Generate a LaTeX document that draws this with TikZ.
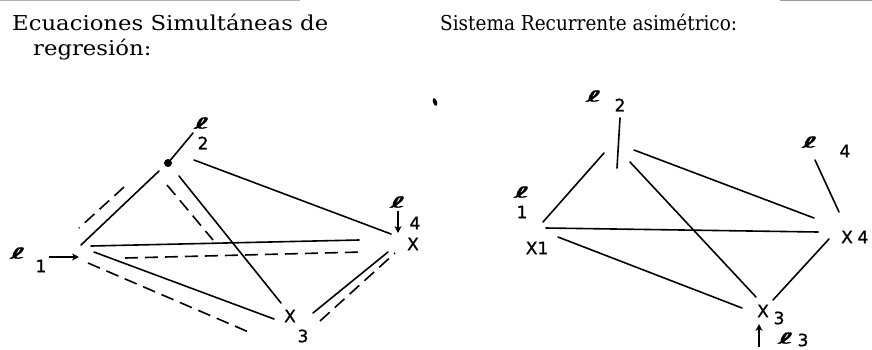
\documentclass[tikz,border=0pt]{standalone}
\usepackage{graphicx}
\usepackage{fontspec}
\newfontfamily\hand[FakeBold=1]{DejaVu Sans}
\newfontfamily\titlef{DejaVu Serif}
\usetikzlibrary{arrows.meta}
\newcommand{\eg}{\scalebox{2.4}[0.95]{ℓ}}
\tikzset{
  ln/.style={line width=1.6pt, line cap=round},
  dl/.style={line width=1.6pt, dash pattern=on 13pt off 7pt},
  arr/.style={line width=1.6pt, -{Stealth[length=7pt,width=7pt]}},
  lab/.style={inner sep=0pt, font=\hand\fontsize{17}{17}\selectfont},
  ee/.style={inner sep=0pt, font=\hand\fontsize{16}{16}\selectfont},
  ttl/.style={inner sep=0pt, anchor=base west, font=\titlef\fontsize{20.5}{20.5}\selectfont}
}
\begin{document}
\begin{tikzpicture}[x=1pt,y=-1pt]
\useasboundingbox (0,0) rectangle (872,349);
\fill[white] (0,0) rectangle (872,349);
% scan remnant at top
\draw[gray!60, line width=1pt] (0,0.5) -- (300,0.5);
\draw[gray!80, line width=1pt] (780,0.5) -- (872,0.5);
% titles
\node[ttl] (t1) at (12,30.5) {\scalebox{1.11}[1]{Ecuaciones Simultáneas de}};
\node[ttl] (t2) at (33,55) {\scalebox{1.11}[1]{regresión:}};
\node[ttl] (t3) at (440,30.5) {\scalebox{0.9}[1]{Sistema Recurrente asimétrico:}};
% stray mark
\fill (435,102) ellipse [x radius=2pt, y radius=4pt, rotate=20];
% ===== left diagram =====
\coordinate (d) at (168,163);
\fill (d) circle (4pt);
\coordinate (e2a) at (193,133);
\draw[ln] (d) -- (e2a);
\node[ee] (le2) at (202,123) {\eg};
\node[lab] (l2) at (203,143) {2};
% dot -- X1
\coordinate (a1) at (159,171); \coordinate (a2) at (81,245);
\draw[ln] (a1) -- (a2);
\coordinate (a3) at (124,187); \coordinate (a4) at (79,228);
\draw[dl] (a3) -- (a4);
% dot -- X4
\coordinate (b1) at (194,160); \coordinate (b2) at (391,234);
\draw[ln] (b1) -- (b2);
% dot -- X3
\coordinate (c1) at (179,176); \coordinate (c2) at (281,303);
\draw[ln] (c1) -- (c2);
\coordinate (c3) at (167,185); \coordinate (c4) at (213,240);
\draw[dl] (c3) -- (c4);
% X1 -- X4
\coordinate (h1) at (91,246); \coordinate (h2) at (359,240);
\draw[ln] (h1) -- (h2);
\coordinate (h3) at (125,258); \coordinate (h4) at (363,252);
\draw[dl] (h3) -- (h4);
% X1 -- X3
\coordinate (g1) at (94,252); \coordinate (g2) at (274,319);
\draw[ln] (g1) -- (g2);
\coordinate (g3) at (88,263); \coordinate (g4) at (251,333);
\draw[dl] (g3) -- (g4);
% X3 -- X4
\coordinate (k1) at (313,313); \coordinate (k2) at (388,252);
\draw[ln] (k1) -- (k2);
\coordinate (k3) at (320,321); \coordinate (k4) at (395,253);
\draw[dl] (k3) -- (k4);
% labels
\node[lab] (lx3) at (290,316) {X};
\node[lab] (l3) at (303,336) {3};
\node[lab] (lx4) at (413,244) {X};
\node[lab] (l4) at (415,223) {4};
\node[ee] (le4) at (398,202) {\eg};
\coordinate (ar4s) at (398,211); \coordinate (ar4) at (398,233);
\draw[arr] (ar4s) -- (ar4);
\node[ee] (le1) at (18,253) {\eg};
\node[lab] (l1) at (41,266) {1};
\coordinate (ar1s) at (49,257); \coordinate (ar1e) at (79,257);
\draw[arr] (ar1s) -- (ar1e);
% ===== right diagram =====
\node[ee] (re2) at (594,96) {\eg};
\node[lab] (r2) at (620,105) {2};
\coordinate (p1) at (620,118); \coordinate (p2) at (617,168);
\draw[ln] (p1) -- (p2);
\coordinate (q1) at (604,153); \coordinate (q2) at (543,222);
\draw[ln] (q1) -- (q2);
\coordinate (q3) at (634,150); \coordinate (q4) at (814,218);
\draw[ln] (q3) -- (q4);
\coordinate (q5) at (630,162); \coordinate (q6) at (756,297);
\draw[ln] (q5) -- (q6);
\coordinate (q7) at (546,228); \coordinate (q8) at (818,232);
\draw[ln] (q7) -- (q8);
\coordinate (q9) at (558,237); \coordinate (q10) at (742,308);
\draw[ln] (q9) -- (q10);
\coordinate (q11) at (773,300); \coordinate (q12) at (829,239);
\draw[ln] (q11) -- (q12);
\node[ee] (re4) at (810,142) {\eg};
\node[lab] (r4) at (845,151) {4};
\coordinate (q13) at (815,160); \coordinate (q14) at (839,212);
\draw[ln] (q13) -- (q14);
\node[lab] (rx4) at (847,237) {X};
\node[lab] (rx4n) at (863,237) {4};
\node[lab] (rx1) at (537,248) {X1};
\node[ee] (re1) at (522,192) {\eg};
\node[lab] (r1) at (522,212) {1};
\node[lab] (rx3) at (763,311) {X};
\node[lab] (rx3n) at (779,318) {3};
\coordinate (ar3s) at (759,347); \coordinate (ar3e) at (759,324);
\draw[arr] (ar3s) -- (ar3e);
\node[ee] (re3) at (786,338) {\eg};
\node[lab] (r3) at (803,340) {3};
\end{tikzpicture}
\end{document}
